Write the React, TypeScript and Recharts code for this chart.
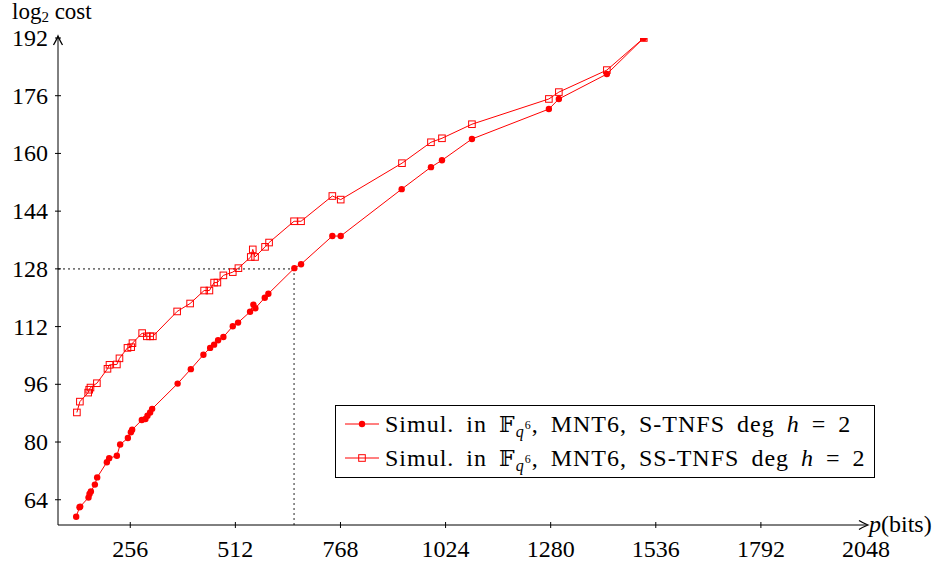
import { LineChart, Line, XAxis, YAxis, ReferenceLine } from 'recharts';

const xTicks = [256, 512, 768, 1024, 1280, 1536, 1792, 2048];
const yTicks = [64, 80, 96, 112, 128, 144, 160, 176, 192];

// S-TNFS (filled dots)
const stnfsBits = [
  124.3, 132.4, 134.1, 154.3, 156.7, 160.1, 169.8, 175.4, 199.0, 204.6,
  223.4, 231.4, 250.2, 257.5, 260.6, 284.2, 293.0, 297.9, 304.4, 309.3,
  371.4, 403.5, 434.2, 450.5, 460.2, 469.9, 482.8, 505.7, 518.6, 547.8,
  555.9, 560.7, 583.6, 592.4, 655.7, 672.0, 748.2, 768.6, 917.1, 988.4,
  1015.2, 1088.2, 1275.6, 1299.9, 1416.8, 1506.8,
];
const stnfsCost = [
  59.3, 61.9, 62.1, 64.6, 65.6, 66.3, 68.2, 70.2, 74.4, 75.5,
  76.2, 79.3, 81.1, 82.7, 83.4, 86.1, 86.4, 87.3, 88.2, 89.2,
  96.2, 100.2, 104.2, 106.1, 107.0, 108.2, 109.1, 112.1, 113.1, 116.1,
  118.1, 117.1, 120.0, 121.1, 128.2, 129.3, 137.1, 137.1, 150.1, 156.2,
  158.1, 164.0, 172.3, 175.1, 182.0, 192.0,
];

// SS-TNFS (open squares)
const sstnfsBits = [
  126.0, 133.3, 153.5, 156.0, 159.1, 174.7, 200.5, 205.4, 223.4, 229.7,
  249.2, 258.2, 261.4, 285.0, 296.4, 304.4, 311.0, 370.2, 401.8, 435.9,
  448.8, 460.2, 468.2, 482.8, 505.7, 519.4, 549.5, 554.4, 560.0, 584.3,
  594.1, 654.9, 672.0, 748.2, 768.6, 917.8, 988.4, 1015.2, 1088.2, 1275.6,
  1299.9, 1416.8, 1506.8,
];
const sstnfsCost = [
  88.2, 91.2, 93.7, 94.5, 95.1, 96.3, 100.3, 101.4, 101.5, 103.2,
  106.1, 106.3, 107.4, 110.2, 109.3, 109.3, 109.3, 116.2, 118.4, 122.0,
  122.0, 124.2, 124.2, 126.2, 127.1, 128.2, 131.3, 133.4, 131.3, 134.1,
  135.3, 141.2, 141.2, 148.2, 147.2, 157.3, 163.1, 164.2, 168.1, 175.1,
  177.0, 183.1, 192.0,
];

const markP = 655;
const markCost = 128;

const stnfs = stnfsBits.map((p, i) => ({ p, cost: stnfsCost[i] }));
const sstnfs = sstnfsBits.map((p, i) => ({ p, cost: sstnfsCost[i] }));

const RED = '#ff0000';
const FONT = '"Liberation Serif", "DejaVu Serif", serif';

const Square = (props: any) => {
  const { cx, cy, index } = props;
  if (cx == null || cy == null) return <g key={index} />;
  return <rect key={index} x={cx - 3.3} y={cy - 3.3} width={6.6} height={6.6} fill="none" stroke={RED} strokeWidth={1} />;
};

const YTick = (props: any) => {
  const { x, y, payload } = props;
  return (
    <g>
      <line x1={x - 3} x2={x + 3} y1={y} y2={y} stroke="#000" strokeWidth={1} />
      <text x={x - 10} y={y} dy={8} textAnchor="end" fontFamily={FONT} fontSize={24} fill="#000">
        {payload.value}
      </text>
    </g>
  );
};

const XTick = (props: any) => {
  const { x, y, payload } = props;
  return (
    <g>
      {payload.value !== 2048 && <line x1={x} x2={x} y1={y - 3} y2={y + 3} stroke="#000" strokeWidth={1} />}
      <text x={x} y={y + 32} textAnchor="middle" fontFamily={FONT} fontSize={24} fill="#000">
        {payload.value}
      </text>
    </g>
  );
};

const LegendLabel = ({ kind }: { kind: string }) => (
  <span>
    Simul. in <span style={{ fontFamily: '"DejaVu Serif", serif', fontSize: 22 }}>𝔽</span>
    <span style={{ fontSize: 16, fontStyle: 'italic', position: 'relative', top: 5, lineHeight: 0 }}>
      q<span style={{ fontSize: 12, fontStyle: 'normal', position: 'relative', top: -8 }}>6</span>
    </span>
    , MNT6, {kind} deg <i>h</i> = 2
  </span>
);

const LegendBox = () => (
  <div
    style={{
      position: 'absolute',
      left: 335,
      top: 405,
      width: 540,
      height: 73,
      boxSizing: 'border-box',
      border: '1px solid #000',
      background: '#fff',
      padding: '1px 0 0 9px',
      fontFamily: FONT,
      fontSize: 24,
      letterSpacing: 1,
      wordSpacing: 5,
      color: '#000',
      lineHeight: '34px',
      whiteSpace: 'nowrap',
    }}
  >
    <div style={{ display: 'flex', alignItems: 'center', height: 34 }}>
      <svg width={34} height={16} style={{ marginRight: 6 }}>
        <line x1={0} x2={34} y1={8} y2={8} stroke={RED} strokeWidth={1} />
        <circle cx={17} cy={8} r={3.2} fill={RED} />
      </svg>
      <LegendLabel kind="S-TNFS" />
    </div>
    <div style={{ display: 'flex', alignItems: 'center', height: 34 }}>
      <svg width={34} height={16} style={{ marginRight: 6 }}>
        <line x1={0} x2={34} y1={8} y2={8} stroke={RED} strokeWidth={1} />
        <rect x={13.7} y={4.7} width={6.6} height={6.6} fill="none" stroke={RED} strokeWidth={1} />
      </svg>
      <LegendLabel kind="SS-TNFS" />
    </div>
  </div>
);

export default function App() {
  return (
    <div style={{ position: 'absolute', left: 0, top: 0, width: 944, height: 565, background: '#fff' }}>
      <LineChart width={944} height={565} margin={{ top: 38, right: 78, bottom: 0, left: 0 }}>
        <XAxis
          type="number"
          dataKey="p"
          domain={[80, 2048]}
          ticks={xTicks}
          tick={<XTick />}
          tickSize={0}
          tickMargin={0}
          tickLine={false}
          height={40}
          axisLine={{ stroke: '#000', strokeWidth: 1 }}
          allowDataOverflow
        />
        <YAxis
          type="number"
          dataKey="cost"
          domain={[57, 192]}
          ticks={yTicks}
          tick={<YTick />}
          tickSize={0}
          tickMargin={0}
          tickLine={false}
          width={58}
          axisLine={{ stroke: '#000', strokeWidth: 1 }}
          allowDataOverflow
        />
        <ReferenceLine
          segment={[{ x: 80, y: markCost }, { x: markP, y: markCost }]}
          stroke="#777"
          strokeWidth={1.6}
          strokeDasharray="2 3"
        />
        <ReferenceLine
          segment={[{ x: markP, y: 57 }, { x: markP, y: markCost }]}
          stroke="#777"
          strokeWidth={1.6}
          strokeDasharray="2 3"
        />
        <Line
          data={sstnfs}
          dataKey="cost"
          stroke={RED}
          strokeWidth={1}
          dot={<Square />}
          activeDot={false}
          isAnimationActive={false}
        />
        <Line
          data={stnfs}
          dataKey="cost"
          stroke={RED}
          strokeWidth={1}
          dot={{ r: 3.2, fill: RED, stroke: RED, strokeWidth: 0 }}
          activeDot={false}
          isAnimationActive={false}
        />
      </LineChart>
      <svg width={944} height={565} style={{ position: 'absolute', left: 0, top: 0, pointerEvents: 'none' }}>
        <path d="M53.5,45 Q56,41 58,36 Q60,41 62.5,45" fill="none" stroke="#000" strokeWidth={1.3} />
        <path d="M859,520.5 Q863,523 868,525 Q863,527 859,529.5" fill="none" stroke="#000" strokeWidth={1.3} />
      </svg>
      <LegendBox />
      <div style={{ position: 'absolute', left: 12, top: 0, fontFamily: FONT, fontSize: 23, color: '#000', whiteSpace: 'nowrap', lineHeight: '24px' }}>
        log<span style={{ fontSize: 15, position: 'relative', top: 3, lineHeight: 0 }}>2</span> cost
      </div>
      <div style={{ position: 'absolute', left: 869, top: 510, fontFamily: FONT, fontSize: 24, color: '#000', whiteSpace: 'nowrap', lineHeight: '28px' }}>
        <i>p</i>(bits)
      </div>
    </div>
  );
}
